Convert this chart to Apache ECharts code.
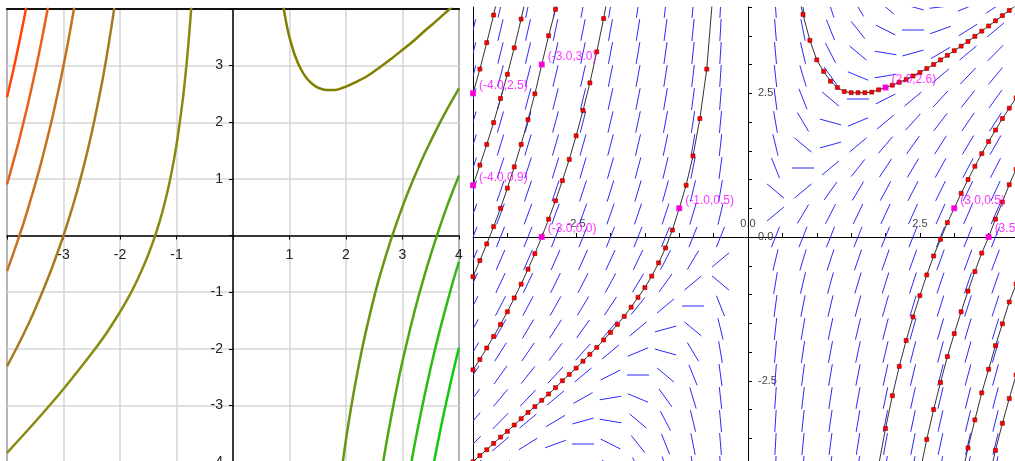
<!DOCTYPE html>
<html><head><meta charset="utf-8">
<script src="https://cdn.jsdelivr.net/npm/echarts@6/dist/echarts.min.js"></script>
<style>html,body{margin:0;padding:0;background:#fff}#c{width:1015px;height:461px}</style>
</head><body><div id="c"></div>
<script>
// ---------- LEFT PANEL: solution curves ----------
const leftXTickLabels = [-3, -2, -1, 1, 2, 3, 4];
const leftYTickLabels = [-4, -3, -2, -1, 1, 2, 3];
const leftCurve1 = [[-4.0,2.44],[-3.9,2.87],[-3.8,3.33],[-3.7,3.82],[-3.65,4.08]];
const leftCurve2 = [[-4.0,0.9],[-3.9,1.26],[-3.8,1.63],[-3.7,2.03],[-3.6,2.45],[-3.5,2.9],[-3.4,3.38],[-3.3,3.9],[-3.25,4.17]];
const leftCurve3 = [[-4.0,-0.63],[-3.9,-0.35],[-3.8,-0.06],[-3.7,0.24],[-3.6,0.57],[-3.5,0.91],[-3.4,1.27],[-3.3,1.66],[-3.2,2.07],[-3.1,2.52],[-3.0,3.0],[-2.9,3.52],[-2.8,4.09]];
const leftCurve4 = [[-4.0,-2.31],[-3.8,-1.93],[-3.6,-1.52],[-3.4,-1.06],[-3.2,-0.56],[-3.0,0.0],[-2.9,0.31],[-2.8,0.64],[-2.7,1.0],[-2.6,1.39],[-2.5,1.82],[-2.4,2.29],[-2.3,2.8],[-2.2,3.38],[-2.1,4.02]];
const leftCurve5 = [[-4.0,-3.84],[-3.5,-3.29],[-3.0,-2.71],[-2.5,-2.08],[-2.25,-1.74],[-2.0,-1.35],[-1.9,-1.18],[-1.8,-1.0],[-1.7,-0.8],[-1.6,-0.58],[-1.5,-0.34],[-1.4,-0.07],[-1.3,0.24],[-1.2,0.61],[-1.1,1.05],[-1.0,1.6],[-0.9,2.31],[-0.85,2.75],[-0.8,3.26],[-0.75,3.87],[-0.72,4.3]];
const leftCurve6 = [[0.88,4.11],[0.9,3.99],[0.95,3.72],[1.0,3.5],[1.1,3.17],[1.2,2.94],[1.3,2.78],[1.4,2.68],[1.5,2.61],[1.6,2.58],[1.7,2.57],[1.8,2.57],[2.0,2.63],[2.2,2.72],[2.4,2.83],[2.6,2.97],[2.8,3.12],[3.0,3.28],[3.2,3.44],[3.4,3.62],[3.6,3.79],[3.8,3.97],[3.9,4.06]];
const leftCurve7 = [[1.9,-4.31],[2.0,-3.6],[2.1,-2.98],[2.2,-2.43],[2.3,-1.93],[2.4,-1.49],[2.5,-1.08],[2.6,-0.71],[2.8,-0.06],[3.0,0.51],[3.2,1.01],[3.4,1.46],[3.6,1.87],[3.8,2.25],[4.0,2.6]];
const leftCurve8 = [[2.6,-4.35],[2.7,-3.75],[2.8,-3.2],[2.9,-2.69],[3.0,-2.22],[3.2,-1.39],[3.4,-0.67],[3.6,-0.03],[3.8,0.55],[4.0,1.06]];
const leftCurve9 = [[3.1,-4.33],[3.2,-3.77],[3.3,-3.26],[3.4,-2.78],[3.5,-2.33],[3.6,-1.91],[3.7,-1.52],[3.8,-1.15],[3.9,-0.79],[4.0,-0.46]];
const leftCurve10 = [[3.5,-4.31],[3.6,-3.78],[3.7,-3.29],[3.8,-2.83],[3.9,-2.39],[4.0,-1.98]];
const leftCurves = [leftCurve1,leftCurve2,leftCurve3,leftCurve4,leftCurve5,leftCurve6,leftCurve7,leftCurve8,leftCurve9,leftCurve10];
const leftCurveColors = ['#ff4500','#e6601a','#c8701e','#a67a1e','#8a8a12','#808000','#6a9412','#4ea612','#2cbc10','#0ccc0c'];

// ---------- RIGHT PANEL: slope field + numeric solutions ----------
const rightXTickLabels = [-2.5, 0, 2.5];
const rightYTickLabels = [-2.5, 0, 2.5];
const fieldX = [-4.0,-3.6,-3.2,-2.8,-2.4,-2.0,-1.6,-1.2,-0.8,-0.4,0.4,0.8,1.2,1.6,2.0,2.4,2.8,3.2,3.6,4.0];
const fieldY = [-4.0,-3.6,-3.2,-2.8,-2.4,-2.0,-1.6,-1.2,-0.8,-0.4,0.0,0.4,0.8,1.2,1.6,2.0,2.4,2.8,3.2,3.6,4.0];
// slope at each grid point, one array per column (bottom to top)
const fieldSlopes = [
  [1,1.2,1.4,1.6,1.8,2,2.2,2.4,2.6,2.8,3,3.2,3.4,3.6,3.8,4,4.2,4.4,4.6,4.8,5],
  [0.78,1,1.22,1.44,1.67,1.89,2.11,2.33,2.56,2.78,3,3.22,3.44,3.67,3.89,4.11,4.33,4.56,4.78,5,5.22],
  [0.5,0.75,1,1.25,1.5,1.75,2,2.25,2.5,2.75,3,3.25,3.5,3.75,4,4.25,4.5,4.75,5,5.25,5.5],
  [0.14,0.43,0.71,1,1.29,1.57,1.86,2.14,2.43,2.71,3,3.29,3.57,3.86,4.14,4.43,4.71,5,5.29,5.57,5.86],
  [-0.33,0,0.33,0.67,1,1.33,1.67,2,2.33,2.67,3,3.33,3.67,4,4.33,4.67,5,5.33,5.67,6,6.33],
  [-1,-0.6,-0.2,0.2,0.6,1,1.4,1.8,2.2,2.6,3,3.4,3.8,4.2,4.6,5,5.4,5.8,6.2,6.6,7],
  [-2,-1.5,-1,-0.5,0,0.5,1,1.5,2,2.5,3,3.5,4,4.5,5,5.5,6,6.5,7,7.5,8],
  [-3.67,-3,-2.33,-1.67,-1,-0.33,0.33,1,1.67,2.33,3,3.67,4.33,5,5.67,6.33,7,7.67,8.33,9,9.67],
  [-7,-6,-5,-4,-3,-2,-1,0,1,2,3,4,5,6,7,8,9,10,11,12,13],
  [-17,-15,-13,-11,-9,-7,-5,-3,-1,1,3,5,7,9,11,13,15,17,19,21,23],
  [23,21,19,17,15,13,11,9,7,5,3,1,-1,-3,-5,-7,-9,-11,-13,-15,-17],
  [13,12,11,10,9,8,7,6,5,4,3,2,1,0,-1,-2,-3,-4,-5,-6,-7],
  [9.67,9,8.33,7.67,7,6.33,5.67,5,4.33,3.67,3,2.33,1.67,1,0.33,-0.33,-1,-1.67,-2.33,-3,-3.67],
  [8,7.5,7,6.5,6,5.5,5,4.5,4,3.5,3,2.5,2,1.5,1,0.5,0,-0.5,-1,-1.5,-2],
  [7,6.6,6.2,5.8,5.4,5,4.6,4.2,3.8,3.4,3,2.6,2.2,1.8,1.4,1,0.6,0.2,-0.2,-0.6,-1],
  [6.33,6,5.67,5.33,5,4.67,4.33,4,3.67,3.33,3,2.67,2.33,2,1.67,1.33,1,0.67,0.33,0,-0.33],
  [5.86,5.57,5.29,5,4.71,4.43,4.14,3.86,3.57,3.29,3,2.71,2.43,2.14,1.86,1.57,1.29,1,0.71,0.43,0.14],
  [5.5,5.25,5,4.75,4.5,4.25,4,3.75,3.5,3.25,3,2.75,2.5,2.25,2,1.75,1.5,1.25,1,0.75,0.5],
  [5.22,5,4.78,4.56,4.33,4.11,3.89,3.67,3.44,3.22,3,2.78,2.56,2.33,2.11,1.89,1.67,1.44,1.22,1,0.78],
  [5,4.8,4.6,4.4,4.2,4,3.8,3.6,3.4,3.2,3,2.8,2.6,2.4,2.2,2,1.8,1.6,1.4,1.2,1]
];
const rightCurve1 = [[-4.0,2.5],[-3.9,2.92],[-3.8,3.38],[-3.7,3.86],[-3.6,4.4]];
const rightCurve2 = [[-4.0,0.9],[-3.9,1.25],[-3.8,1.61],[-3.7,1.99],[-3.6,2.41],[-3.5,2.83],[-3.4,3.29],[-3.3,3.79],[-3.2,4.33]];
const rightCurve3 = [[-4.0,-0.69],[-3.9,-0.41],[-3.8,-0.12],[-3.7,0.18],[-3.6,0.5],[-3.5,0.85],[-3.4,1.22],[-3.3,1.61],[-3.2,2.04],[-3.1,2.49],[-3.0,3.0],[-2.9,3.5],[-2.8,3.96],[-2.7,4.54]];
const rightCurve4 = [[-4.0,-2.31],[-3.9,-2.13],[-3.8,-1.93],[-3.7,-1.73],[-3.6,-1.52],[-3.5,-1.3],[-3.4,-1.06],[-3.3,-0.82],[-3.2,-0.56],[-3.1,-0.29],[-3.0,0.0],[-2.9,0.31],[-2.8,0.63],[-2.7,0.98],[-2.6,1.35],[-2.5,1.76],[-2.4,2.2],[-2.3,2.68],[-2.2,3.22],[-2.1,3.8],[-2.0,4.45]];
const rightCurve5 = [[-4.0,-3.91],[-3.9,-3.8],[-3.8,-3.7],[-3.7,-3.59],[-3.6,-3.48],[-3.5,-3.38],[-3.4,-3.27],[-3.3,-3.16],[-3.2,-3.05],[-3.1,-2.95],[-3.0,-2.84],[-2.9,-2.73],[-2.8,-2.62],[-2.7,-2.5],[-2.6,-2.39],[-2.5,-2.28],[-2.4,-2.16],[-2.3,-2.04],[-2.2,-1.92],[-2.1,-1.79],[-2.0,-1.66],[-1.9,-1.52],[-1.8,-1.38],[-1.7,-1.22],[-1.6,-1.05],[-1.5,-0.88],[-1.4,-0.68],[-1.3,-0.45],[-1.2,-0.19],[-1.1,0.12],[-1.0,0.5],[-0.9,0.9],[-0.8,1.41],[-0.7,2.06],[-0.6,2.92],[-0.5,4.38]];
const rightCurve6 = [[0.7,4.4],[0.8,3.87],[0.9,3.42],[1.0,3.08],[1.1,2.88],[1.2,2.71],[1.3,2.6],[1.4,2.53],[1.5,2.51],[1.6,2.51],[1.7,2.51],[1.8,2.52],[1.9,2.56],[2.0,2.6],[2.1,2.64],[2.2,2.69],[2.3,2.74],[2.4,2.8],[2.5,2.86],[2.6,2.93],[2.7,3.0],[2.8,3.08],[2.9,3.16],[3.0,3.24],[3.1,3.32],[3.2,3.4],[3.3,3.49],[3.4,3.58],[3.5,3.67],[3.6,3.76],[3.7,3.85],[3.8,3.94],[3.9,4.03]];
const rightCurve7 = [[1.9,-3.97],[2.0,-3.33],[2.1,-2.76],[2.2,-2.25],[2.3,-1.8],[2.4,-1.39],[2.5,-1.02],[2.6,-0.66],[2.7,-0.33],[2.8,-0.04],[2.9,0.25],[3.0,0.5],[3.1,0.76],[3.2,1.0],[3.3,1.23],[3.4,1.45],[3.5,1.66],[3.6,1.86],[3.7,2.06],[3.8,2.24],[3.9,2.42]];
const rightCurve8 = [[2.5,-4.1],[2.6,-3.52],[2.7,-3.0],[2.8,-2.53],[2.9,-2.08],[3.0,-1.68],[3.1,-1.3],[3.2,-0.94],[3.3,-0.6],[3.4,-0.28],[3.5,0.0],[3.6,0.31],[3.7,0.61],[3.8,0.91],[3.9,1.18]];
const rightCurve9 = [[3.1,-4.2],[3.2,-3.67],[3.3,-3.18],[3.4,-2.71],[3.5,-2.3],[3.6,-1.89],[3.7,-1.51],[3.8,-1.13],[3.9,-0.82],[4.0,-0.5]];
const rightCurve10 = [[3.5,-4.23],[3.6,-3.71],[3.7,-3.24],[3.8,-2.81],[3.9,-2.4],[4.0,-2.0]];
const rightCurves = [rightCurve1,rightCurve2,rightCurve3,rightCurve4,rightCurve5,rightCurve6,rightCurve7,rightCurve8,rightCurve9,rightCurve10];
const initialPoints = [[-3.0,3.0],[-4.0,2.5],[-4.0,0.9],[-3.0,0.0],[-1.0,0.5],[2.0,2.6],[3.0,0.5],[3.5,0.0]];

// ---------- layout (pixels) ----------
const LEFT_GRID = {left: 7, top: 9, width: 452, height: 453};
const RIGHT_GRID = {left: 473, top: 7, width: 550, height: 460};
// axes pass through the origin: offset from the grid edge to the zero line
const leftXOffset = -(LEFT_GRID.height / 2);
const leftYOffset = -(LEFT_GRID.width / 2);
const rightXOffset = -(RIGHT_GRID.height / 2);
const rightYOffset = -(RIGHT_GRID.width / 2);

// ---------- build ----------
const fieldData = [];
fieldX.forEach((x, c) => fieldY.forEach((y, r) => fieldData.push([x, y, fieldSlopes[c][r]])));

const FONT = 'Liberation Sans, Arial, sans-serif';
const chart = echarts.init(document.getElementById('c'), null, {renderer: 'canvas'});

const series = [];
leftCurves.forEach((d, i) => series.push({
  type: 'line', xAxisIndex: 0, yAxisIndex: 0, data: d, smooth: 0.3, showSymbol: false,
  lineStyle: {color: leftCurveColors[i], width: 2.5}, clip: true, z: 3, silent: true
}));
series.push({
  type: 'custom', xAxisIndex: 2, yAxisIndex: 1, data: fieldData, clip: true, z: 1, silent: true,
  encode: {x: 0, y: 1},
  renderItem: function (params, api) {
    const x = api.value(0), y = api.value(1), m = api.value(2);
    const p = api.coord([x, y]);
    const q = api.coord([x + 1, y + m]);
    let dx = q[0] - p[0], dy = q[1] - p[1];
    const len = Math.sqrt(dx * dx + dy * dy);
    dx = dx / len * 11; dy = dy / len * 11;
    return {type: 'line', shape: {x1: p[0] - dx, y1: p[1] - dy, x2: p[0] + dx, y2: p[1] + dy},
            style: {stroke: '#2a2aff', lineWidth: 1}};
  }
});
rightCurves.forEach(d => series.push({
  type: 'line', xAxisIndex: 2, yAxisIndex: 1, data: d, smooth: false,
  showSymbol: true, showAllSymbol: true, symbol: 'rect', symbolSize: 4,
  itemStyle: {color: '#ff0000', borderColor: '#8a0000', borderWidth: 0.6},
  lineStyle: {color: '#333', width: 1}, clip: true, z: 3, silent: true
}));
series.push({
  type: 'scatter', xAxisIndex: 2, yAxisIndex: 1, data: initialPoints, symbol: 'rect', symbolSize: 6,
  itemStyle: {color: '#ff00ff'}, z: 4, silent: true, clip: false,
  label: {show: true, position: 'right', distance: 3, offset: [0, -8], color: '#ff00ff',
    fontSize: 12, fontFamily: FONT,
    formatter: p => '(' + p.value[0].toFixed(1) + ',' + p.value[1].toFixed(1) + ')'}
});

const option = {
  backgroundColor: '#fff',
  animation: false,
  grid: [
    Object.assign({show: true, borderColor: '#555', borderWidth: 2, containLabel: false, outerBoundsMode: 'none'}, LEFT_GRID),
    Object.assign({show: false, containLabel: false, outerBoundsMode: 'none'}, RIGHT_GRID)
  ],
  xAxis: [
    {type: 'value', gridIndex: 0, min: -4, max: 4, interval: 1, position: 'bottom', offset: leftXOffset,
     axisLine: {onZero: false, lineStyle: {color: '#000', width: 1.5}},
     axisTick: {show: true, length: 4, lineStyle: {color: '#000'}},
     axisLabel: {margin: 13, fontSize: 14, color: '#222', fontFamily: FONT, showMinLabel: true, showMaxLabel: true,
       formatter: v => leftXTickLabels.includes(v) ? String(v) : ''},
     splitLine: {show: true, lineStyle: {color: '#d6d6d6', width: 1.5}}},
    {type: 'value', gridIndex: 0, min: -4, max: 4, position: 'top',
     axisLine: {onZero: false, lineStyle: {color: '#111', width: 2}},
     axisTick: {show: false}, axisLabel: {show: false}, splitLine: {show: false}},
    {type: 'value', gridIndex: 1, min: -4, max: 4, interval: 0.5, position: 'bottom', offset: rightXOffset,
     axisLine: {onZero: false, lineStyle: {color: '#000', width: 1}},
     axisTick: {show: true, inside: true, length: 4, lineStyle: {color: '#000'}},
     axisLabel: {inside: true, margin: 8, fontSize: 11, color: '#444', fontFamily: FONT,
       showMinLabel: true, showMaxLabel: true,
       formatter: v => rightXTickLabels.includes(v) ? v.toFixed(1) : ''},
     splitLine: {show: false}}
  ],
  yAxis: [
    {type: 'value', gridIndex: 0, min: -4, max: 4, interval: 1, position: 'left', offset: leftYOffset,
     axisLine: {onZero: false, lineStyle: {color: '#000', width: 1.5}},
     axisTick: {show: true, length: 4, lineStyle: {color: '#000'}},
     axisLabel: {margin: 10, fontSize: 14, color: '#222', fontFamily: FONT, showMinLabel: true, showMaxLabel: true,
       formatter: v => leftYTickLabels.includes(v) ? String(v) : ''},
     splitLine: {show: true, lineStyle: {color: '#d6d6d6', width: 1.5}}},
    {type: 'value', gridIndex: 1, min: -4, max: 4, interval: 0.5, position: 'left', offset: rightYOffset,
     axisLine: {onZero: false, lineStyle: {color: '#000', width: 1}},
     axisTick: {show: true, inside: true, length: 4, lineStyle: {color: '#000'}},
     axisLabel: {inside: true, margin: 10, fontSize: 11, color: '#444', fontFamily: FONT,
       showMinLabel: true, showMaxLabel: true,
       formatter: v => rightYTickLabels.includes(v) ? v.toFixed(1) : ''},
     splitLine: {show: false}},
    {type: 'value', gridIndex: 1, min: -4, max: 4, position: 'left',
     axisLine: {onZero: false, lineStyle: {color: '#000', width: 1}},
     axisTick: {show: false}, axisLabel: {show: false}, splitLine: {show: false}}
  ],
  series: series
};
chart.setOption(option);
</script></body></html>
